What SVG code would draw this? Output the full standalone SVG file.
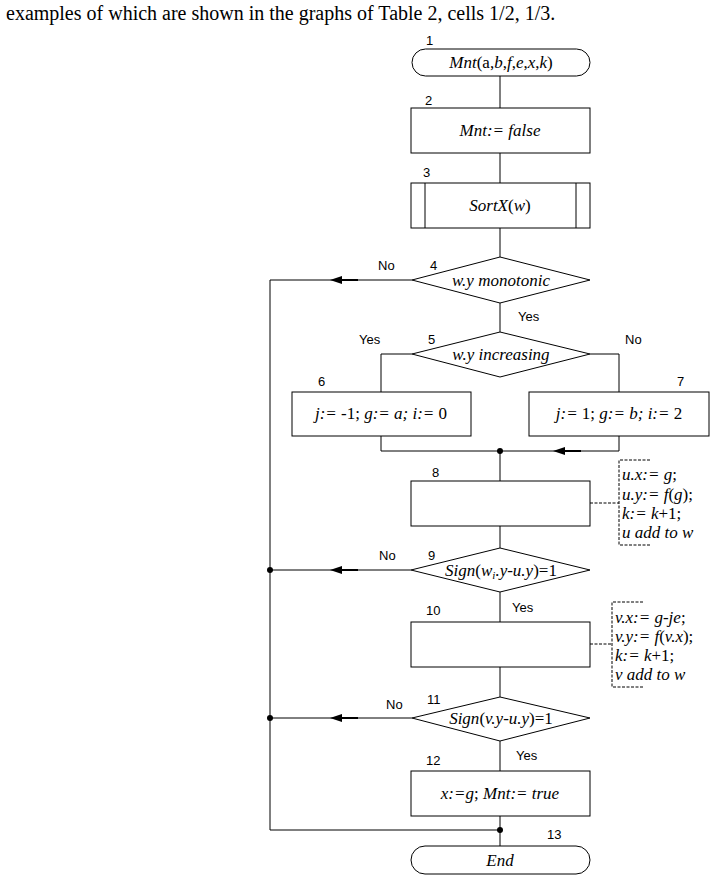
<svg xmlns="http://www.w3.org/2000/svg" xmlns:xlink="http://www.w3.org/1999/xlink" width="716" height="882" viewBox="0 0 716 882">
<style>
.shape{fill:#fff;stroke:#000;stroke-width:1}
.line{fill:none;stroke:#000;stroke-width:1}
.dash{fill:none;stroke:#000;stroke-width:1;stroke-dasharray:3,1.5}
.t{font-family:"Liberation Serif","Times New Roman",serif;font-size:17px;font-style:italic;fill:#000}
.r{font-style:normal}
.lbl{font-family:"Liberation Sans",Arial,sans-serif;font-size:13px;fill:#000}
.ann{font-family:"Liberation Serif","Times New Roman",serif;font-size:17px;font-style:italic;fill:#000}
.head{font-family:"Liberation Serif","Times New Roman",serif;font-size:20px;fill:#000}
</style>
<defs>
<g id="arr"><path d="M0,0 L12,-4 L12,4 Z" fill="#000"/><line x1="12" y1="0" x2="28" y2="0" stroke="#000" stroke-width="2"/></g>
</defs>
<rect width="716" height="882" fill="#fff"/>
<text class="head" x="6" y="20">examples of which are shown in the graphs of Table 2, cells 1/2, 1/3.</text>

<g id="connectors">
<path class="line" d="M500,76 V108"/>
<path class="line" d="M500,153 V183"/>
<path class="line" d="M500,228 V257"/>
<path class="line" d="M500,303 V332"/>
<path class="line" d="M412,354 H381 V392"/>
<path class="line" d="M590,354 H619 V392"/>
<path class="line" d="M381,436 V451 H619 V436"/>
<path class="line" d="M500,451 V481"/>
<path class="line" d="M500,526 V548"/>
<path class="line" d="M500,592 V622"/>
<path class="line" d="M500,667 V697"/>
<path class="line" d="M500,741 V771"/>
<path class="line" d="M500,816 V846"/>
<path class="line" d="M412,280 H270 V830 H500"/>
<path class="line" d="M411,570 H270"/>
<path class="line" d="M412,718 H270"/>
<use xlink:href="#arr" x="330" y="280"/>
<use xlink:href="#arr" x="330" y="570"/>
<use xlink:href="#arr" x="330" y="718"/>
<use xlink:href="#arr" x="553" y="451"/>
<circle cx="500" cy="451" r="3" fill="#000"/>
<circle cx="270" cy="570" r="3" fill="#000"/>
<circle cx="270" cy="718" r="3" fill="#000"/>
<circle cx="500" cy="830" r="3" fill="#000"/>
<path class="dash" d="M590,503 H619"/>
<path class="dash" d="M650,460 H619 V545 H650"/>
<path class="dash" d="M590,644 H612"/>
<path class="dash" d="M643,602 H612 V687 H643"/>
<text class="lbl" x="378" y="270">No</text>
<text class="lbl" x="518" y="321">Yes</text>
<text class="lbl" x="359" y="344">Yes</text>
<text class="lbl" x="625" y="344">No</text>
<text class="lbl" x="379" y="560">No</text>
<text class="lbl" x="512" y="612">Yes</text>
<text class="lbl" x="386" y="709">No</text>
<text class="lbl" x="516" y="760">Yes</text>
</g>

<g id="n1">
<rect class="shape" x="412" y="49" width="178" height="27" rx="13.5"/>
<text class="lbl" x="426" y="45">1</text>
<text class="t" x="501" y="68" text-anchor="middle">Mnt<tspan class="r">(a,</tspan>b<tspan class="r">,</tspan>f<tspan class="r">,</tspan>e<tspan class="r">,</tspan>x<tspan class="r">,</tspan>k<tspan class="r">)</tspan></text>
</g>
<g id="n2">
<rect class="shape" x="411" y="108" width="179" height="45"/>
<text class="lbl" x="425" y="105">2</text>
<text class="t" x="500" y="136" text-anchor="middle">Mnt:= false</text>
</g>
<g id="n3">
<rect class="shape" x="411" y="183" width="179" height="45"/>
<path class="line" d="M425,183 V228 M576,183 V228"/>
<text class="lbl" x="423" y="177">3</text>
<text class="t" x="500" y="211" text-anchor="middle">SortX<tspan class="r">(</tspan>w<tspan class="r">)</tspan></text>
</g>
<g id="n4">
<path class="shape" d="M500,257 L590,280 L500,303 L412,280 Z"/>
<text class="lbl" x="430" y="270">4</text>
<text class="t" x="501" y="286" text-anchor="middle">w.y monotonic</text>
</g>
<g id="n5">
<path class="shape" d="M500,332 L590,354 L500,377 L412,354 Z"/>
<text class="lbl" x="428" y="344">5</text>
<text class="t" x="501" y="360" text-anchor="middle">w.y increasing</text>
</g>
<g id="n6">
<rect class="shape" x="292" y="392" width="179" height="44"/>
<text class="lbl" x="318" y="386">6</text>
<text class="t" x="381" y="419" text-anchor="middle">j:= <tspan class="r">-1;</tspan> g:= a; i:= <tspan class="r">0</tspan></text>
</g>
<g id="n7">
<rect class="shape" x="529" y="392" width="180" height="44"/>
<text class="lbl" x="677" y="386">7</text>
<text class="t" x="619" y="419" text-anchor="middle">j:= <tspan class="r">1;</tspan> g:= b; i:= <tspan class="r">2</tspan></text>
</g>
<g id="n8">
<rect class="shape" x="411" y="481" width="179" height="45"/>
<text class="lbl" x="432" y="477">8</text>
<text class="ann" x="622" y="480">u.x:= g<tspan class="r">;</tspan></text>
<text class="ann" x="622" y="500">u.y:= f<tspan class="r">(</tspan>g<tspan class="r">);</tspan></text>
<text class="ann" x="622" y="519">k:= k<tspan class="r">+1;</tspan></text>
<text class="ann" x="622" y="538">u add to w</text>
</g>
<g id="n9">
<path class="shape" d="M500,548 L590,570 L500,592 L411,570 Z"/>
<text class="lbl" x="428" y="560">9</text>
<text class="t" x="501" y="576" text-anchor="middle">Sign<tspan class="r">(</tspan>w<tspan font-size="11" dy="3">i</tspan><tspan dy="-3">.y-u.y</tspan><tspan class="r">)=1</tspan></text>
</g>
<g id="n10">
<rect class="shape" x="411" y="622" width="179" height="45"/>
<text class="lbl" x="426" y="615">10</text>
<text class="ann" x="615" y="623">v.x:= g-je<tspan class="r">;</tspan></text>
<text class="ann" x="615" y="642">v.y:= f<tspan class="r">(</tspan>v.x<tspan class="r">);</tspan></text>
<text class="ann" x="615" y="661">k:= k<tspan class="r">+1;</tspan></text>
<text class="ann" x="615" y="680">v add to w</text>
</g>
<g id="n11">
<path class="shape" d="M500,697 L590,718 L500,741 L412,718 Z"/>
<text class="lbl" x="427" y="704">11</text>
<text class="t" x="501" y="724" text-anchor="middle">Sign<tspan class="r">(</tspan>v.y-u.y<tspan class="r">)=1</tspan></text>
</g>
<g id="n12">
<rect class="shape" x="411" y="771" width="179" height="45"/>
<text class="lbl" x="426" y="765">12</text>
<text class="t" x="500" y="799" text-anchor="middle">x:=g<tspan class="r">;</tspan> Mnt:= true</text>
</g>
<g id="n13">
<rect class="shape" x="411" y="846" width="179" height="28" rx="14"/>
<text class="lbl" x="547" y="839">13</text>
<text class="t" x="500" y="866" text-anchor="middle">End</text>
</g>
</svg>
